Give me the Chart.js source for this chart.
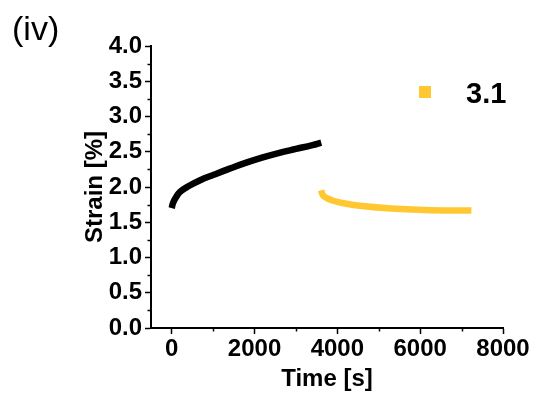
<!DOCTYPE html>
<html>
<head>
<meta charset="utf-8">
<script src="https://cdn.jsdelivr.net/npm/chart.js@4.4.0/dist/chart.umd.min.js"></script>
<style>
  html, body { margin: 0; padding: 0; background: #fff; }
  #wrap { width: 535px; height: 397px; position: relative; }
</style>
</head>
<body>
<div id="wrap"><canvas id="strainChart"></canvas></div>
<script>
// values
const panelLabel = "(iv)";
const loadTime = [0, 30, 100, 200, 400, 700, 1000, 1400, 1800, 2200, 2600, 3000, 3400, 3611];
const loadStrain = [1.70, 1.77, 1.85, 1.93, 2.01, 2.10, 2.17, 2.26, 2.345, 2.42, 2.485, 2.54, 2.595, 2.63];
const recoveryTime = [3611, 3630, 3670, 3750, 3900, 4150, 4600, 5300, 6100, 7237];
const recoveryStrain = [1.955, 1.91, 1.87, 1.84, 1.805, 1.77, 1.73, 1.695, 1.675, 1.665];
const xTicks = [0, 2000, 4000, 6000, 8000];
const xMinor = [1000, 3000, 5000, 7000];
const yTicks = [0, 0.5, 1.0, 1.5, 2.0, 2.5, 3.0, 3.5, 4.0];
const yMinor = [0.25, 0.75, 1.25, 1.75, 2.25, 2.75, 3.25, 3.75];
const legendLabel = "3.1";

const FONT = "'Liberation Sans', Arial, sans-serif";
const YELLOW = "#FFC832";

const toPts = (xs, ys) => xs.map((x, i) => ({ x, y: ys[i] }));

// panel label, inside legend and minor ticks
const extras = {
    id: 'extras',
    afterDraw(chart) {
        const ctx = chart.ctx;
        const xs = chart.scales.x, ys = chart.scales.y;
        ctx.save();
        ctx.strokeStyle = '#000';
        ctx.lineWidth = 1.5;
        xMinor.forEach(v => {
            const px = Math.round(xs.getPixelForValue(v)) + 0.5;
            ctx.beginPath(); ctx.moveTo(px, xs.top); ctx.lineTo(px, xs.top + 3.5); ctx.stroke();
        });
        yMinor.forEach(v => {
            const py = Math.round(ys.getPixelForValue(v)) + 0.5;
            ctx.beginPath(); ctx.moveTo(ys.right, py); ctx.lineTo(ys.right - 3.5, py); ctx.stroke();
        });

        ctx.fillStyle = '#000';
        ctx.font = "34px " + FONT;
        ctx.textBaseline = 'alphabetic';
        ctx.textAlign = 'left';
        ctx.fillText(panelLabel, 12, 40);

        const ds = chart.data.datasets[1];
        ctx.fillStyle = ds.borderColor;
        ctx.fillRect(419, 86, 12, 12);
        ctx.fillStyle = '#000';
        ctx.font = "bold 29px " + FONT;
        ctx.fillText(ds.label, 466, 103);
        ctx.restore();
    }
};

const tickFont = { family: FONT, size: 24, weight: 'bold' };

new Chart(document.getElementById('strainChart'), {
    type: 'scatter',
    data: {
        datasets: [
            { label: 'loading', data: toPts(loadTime, loadStrain), showLine: true, borderColor: '#000', backgroundColor: '#000', borderWidth: 6.5, pointRadius: 0, tension: 0.4 },
            { label: legendLabel, data: toPts(recoveryTime, recoveryStrain), showLine: true, borderColor: YELLOW, backgroundColor: YELLOW, borderWidth: 6.5, pointRadius: 0, tension: 0.4 }
        ]
    },
    options: {
        responsive: true,
        maintainAspectRatio: false,
        animation: false,
        layout: { padding: { left: 70, top: 46, right: 32, bottom: 0 } },
        plugins: { legend: { display: false }, tooltip: { enabled: false } },
        scales: {
            x: {
                type: 'linear',
                min: -500, max: 8000,
                afterBuildTicks: s => { s.ticks = xTicks.map(v => ({ value: v })); },
                afterFit: s => { s.height = 69; },
                grid: { drawOnChartArea: false, tickLength: 6, tickWidth: 1.5, tickColor: '#000' },
                border: { color: '#000', width: 2 },
                ticks: { color: '#000', padding: 1, maxRotation: 0, callback: v => String(v), font: tickFont },
                title: { display: true, text: 'Time [s]', color: '#000', padding: { top: 0, bottom: 3 }, font: tickFont }
            },
            y: {
                min: 0, max: 4,
                afterBuildTicks: s => { s.ticks = yTicks.map(v => ({ value: v })); },
                afterFit: s => { s.width = 81; },
                grid: { drawOnChartArea: false, tickLength: 6, tickWidth: 1.5, tickColor: '#000' },
                border: { color: '#000', width: 2 },
                ticks: { color: '#000', padding: 3, callback: v => v.toFixed(1), font: tickFont },
                title: { display: true, text: 'Strain [%]', color: '#000', padding: { top: 11, bottom: 0 }, font: tickFont }
            }
        }
    },
    plugins: [extras]
});
</script>
</body>
</html>
